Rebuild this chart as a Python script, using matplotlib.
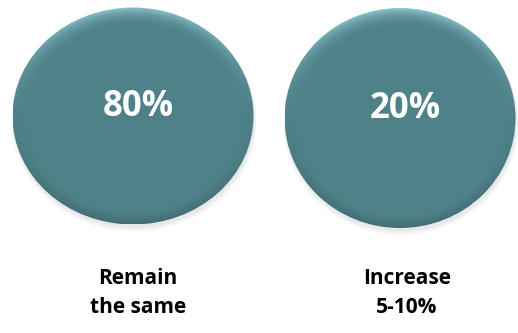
import numpy as np
import matplotlib
matplotlib.use("Agg")
import matplotlib.pyplot as plt
from matplotlib.patches import Ellipse

plt.rcParams["font.family"] = ["Open Sans", "DejaVu Sans"]

# data
shares = [80, 20]
answers = ["Remain\nthe same", "Increase\n5-10%"]

# layout in pixel coordinates
centres = [(133, 116), (400, 118)]
sizes = [(241, 217), (231, 220)]
label_x = [138, 407]

fig = plt.figure(figsize=(5.18, 3.33), dpi=100)
ax = fig.add_axes([0, 0, 1, 1])
ax.set_xlim(0, 518)
ax.set_ylim(333, 0)
ax.axis("off")

base = np.array([0x4f, 0x81, 0x89]) / 255
light = np.array([0x8c, 0xc4, 0xcc]) / 255

for (cx, cy), (w, h), share, answer, lx in zip(centres, sizes, shares, answers, label_x):
    # soft shadow under the disc
    for k in range(3):
        sh = Ellipse((cx + 1, cy + 3 + k), w + 2 * k, h + 2 * k,
                     facecolor="#5a6a70", edgecolor="none", alpha=0.05, zorder=1)
        ax.add_patch(sh)

    # shaded disc: lighter rim toward the top
    yy, xx = np.mgrid[cy - h / 2:cy + h / 2:300j, cx - w / 2:cx + w / 2:300j]
    r = np.sqrt(((xx - cx) / (w / 2)) ** 2 + ((yy - cy) / (h / 2)) ** 2)
    up = np.clip(-(yy - cy) / (h / 2), 0, 1)
    glow = np.clip((r - 0.82) / 0.18, 0, 1) ** 2 * up ** 1.5
    dark = np.clip((r - 0.9) / 0.1, 0, 1) * np.clip((yy - cy) / (h / 2), 0, 1) * 0.15
    img = base[None, None, :] * (1 - glow[..., None]) + light[None, None, :] * glow[..., None]
    img = img * (1 - dark[..., None])
    disc = Ellipse((cx, cy), w, h, facecolor="none", edgecolor="none", zorder=2)
    ax.add_patch(disc)
    im = ax.imshow(np.clip(img, 0, 1), extent=(cx - w / 2, cx + w / 2, cy + h / 2, cy - h / 2),
                   zorder=2, interpolation="bilinear")
    im.set_clip_path(disc)

    ax.text(cx + 5, cy - 9, f"{share}%", color="white", fontsize=25,
            fontweight="bold", ha="center", va="center", zorder=3)
    ax.text(lx, 293, answer, color="black", fontsize=15, fontweight="bold",
            ha="center", va="center", linespacing=1.55, zorder=3)

ax.set_aspect("auto")
fig.savefig("out.png", dpi=100)
